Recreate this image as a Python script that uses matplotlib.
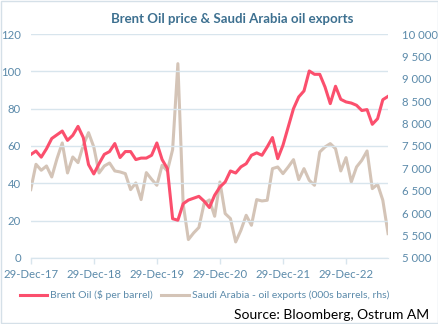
################################################################################
#   Brent oil price vs Saudi Arabia oil exports (monthly, Dec-17 .. Aug-23)    #
################################################################################

import matplotlib
matplotlib.use("Agg")
import matplotlib.pyplot as plt
from matplotlib.ticker import FuncFormatter, MultipleLocator
from matplotlib.lines import Line2D
from matplotlib.patches import Rectangle


################################################################################
#                                    DATA                                      #
################################################################################

year_labels = ["29-Dec-17", "29-Dec-18", "29-Dec-19", "29-Dec-20", "29-Dec-21", "29-Dec-22"]

# Brent, $ per barrel (left axis), one value per month starting Dec-17
brent = [55.4, 57.3, 54.0, 58.5, 64.0, 66.0, 68.0, 63.0, 65.7, 70.5, 64.5, 50.0,
         45.0, 50.5, 55.5, 57.0, 61.3, 53.8, 57.0, 57.0, 52.7, 53.5, 53.5, 55.0,
         61.6, 52.7, 47.9, 21.0, 20.2, 29.0, 31.0, 32.0, 33.0, 30.4, 27.0, 33.6,
         38.0, 40.7, 46.6, 45.5, 48.8, 50.5, 55.0, 56.3, 55.0, 59.5, 64.5, 53.2,
         60.4, 70.2, 80.0, 86.3, 89.5, 100.2, 98.4, 98.4, 91.6, 82.7, 92.0, 85.0,
         83.6, 83.0, 81.8, 79.0, 79.5, 71.6, 74.6, 84.8, 86.6]

# Saudi Arabia oil exports, 000s barrels (right axis)
saudi = [6525, 7091, 6957, 7053, 6808, 7217, 7567, 6897, 7254, 7128, 7515, 7797,
         7478, 6897, 7053, 7120, 6942, 6920, 6882, 6525, 6674, 6302, 6905, 6756,
         6622, 7068, 6942, 7418, 9338, 6213, 5409, 5558, 5680, 6220, 6295, 5930,
         6696, 5990, 5878, 5357, 5618, 5952, 5729, 6302, 6272, 6287, 6994, 7031,
         6882, 7031, 7195, 6748, 6994, 6733, 6622, 7366, 7478, 7552, 7440, 6942,
         7239, 6696, 7031, 7180, 7388, 6547, 6644, 6287, 5543]


################################################################################
#                                    STYLE                                     #
################################################################################

plt.rcParams["font.family"] = ["Lato", "DejaVu Sans"]

red = "#fb4f6d"
tan = "#d4c4b7"
label_blue = "#5b8aaa"
title_blue = "#3d7090"
grid_blue = "#d8e5ed"


################################################################################
#                                    PLOT                                      #
################################################################################

fig = plt.figure(figsize=(4.39, 3.24), dpi=100)
ax = fig.add_axes([0.070, 0.204, 0.814, 0.691])
ax2 = ax.twinx()

months = list(range(len(brent)))

ax2.plot(months, saudi, color=tan, lw=2.2, solid_joinstyle="round", zorder=2)
ax.plot(months, brent, color=red, lw=2.2, solid_joinstyle="round", zorder=3)

# draw the red series above the twin axis
ax.set_zorder(ax2.get_zorder() + 1)
ax.patch.set_visible(False)

ax.set_xlim(0, len(brent) - 1)
ax.set_ylim(0, 120)
ax.yaxis.set_major_locator(MultipleLocator(20))
ax.grid(axis="y", color=grid_blue, lw=1)
ax.set_axisbelow(True)

ax2.set_ylim(5000, 10000)
ax2.yaxis.set_major_locator(MultipleLocator(500))
ax2.yaxis.set_major_formatter(FuncFormatter(lambda v, p: "{:,.0f}".format(v).replace(",", " ")))

ax.set_xticks([12 * i for i in range(len(year_labels))])
ax.set_xticklabels(year_labels)

for a in (ax, ax2):
    for side in ("top", "left", "right"):
        a.spines[side].set_visible(False)
    a.spines["bottom"].set_color(grid_blue)

ax.tick_params(axis="x", colors=grid_blue, labelcolor=label_blue, labelsize=8.2,
               length=4, width=1, pad=4)
ax.tick_params(axis="y", length=0, labelcolor=label_blue, labelsize=8.2, pad=7)
ax2.tick_params(axis="y", length=0, labelcolor=label_blue, labelsize=8.2, pad=10)
ax2.tick_params(axis="x", length=0)

fig.text(0.528, 0.941, "Brent Oil price & Saudi Arabia oil exports", ha="center",
         va="center", fontsize=9.5, fontweight="bold", color=title_blue)

handles = [Line2D([], [], color=red, lw=2.2),
           Line2D([], [], color=tan, lw=2.2)]
names = ["Brent Oil ($ per barrel)", "Saudi Arabia - oil exports (000s barrels, rhs)"]
leg = fig.legend(handles, names, loc="center", bbox_to_anchor=(0.466, 0.089), ncol=2,
                 frameon=False, fontsize=7.5, handlelength=2.6, handletextpad=0.3,
                 columnspacing=0.8, borderaxespad=0, borderpad=0)
for t in leg.get_texts():
    t.set_color(label_blue)

fig.text(0.978, 0.028, "Source: Bloomberg, Ostrum AM", ha="right", va="center",
         fontsize=10, color="black")

# thin frame round the whole picture
fig.patches.append(Rectangle((0.003, 0.004), 0.994, 0.992, transform=fig.transFigure,
                             fill=False, edgecolor="#d5e0e8", lw=1))

fig.savefig("out.png", dpi=100)
